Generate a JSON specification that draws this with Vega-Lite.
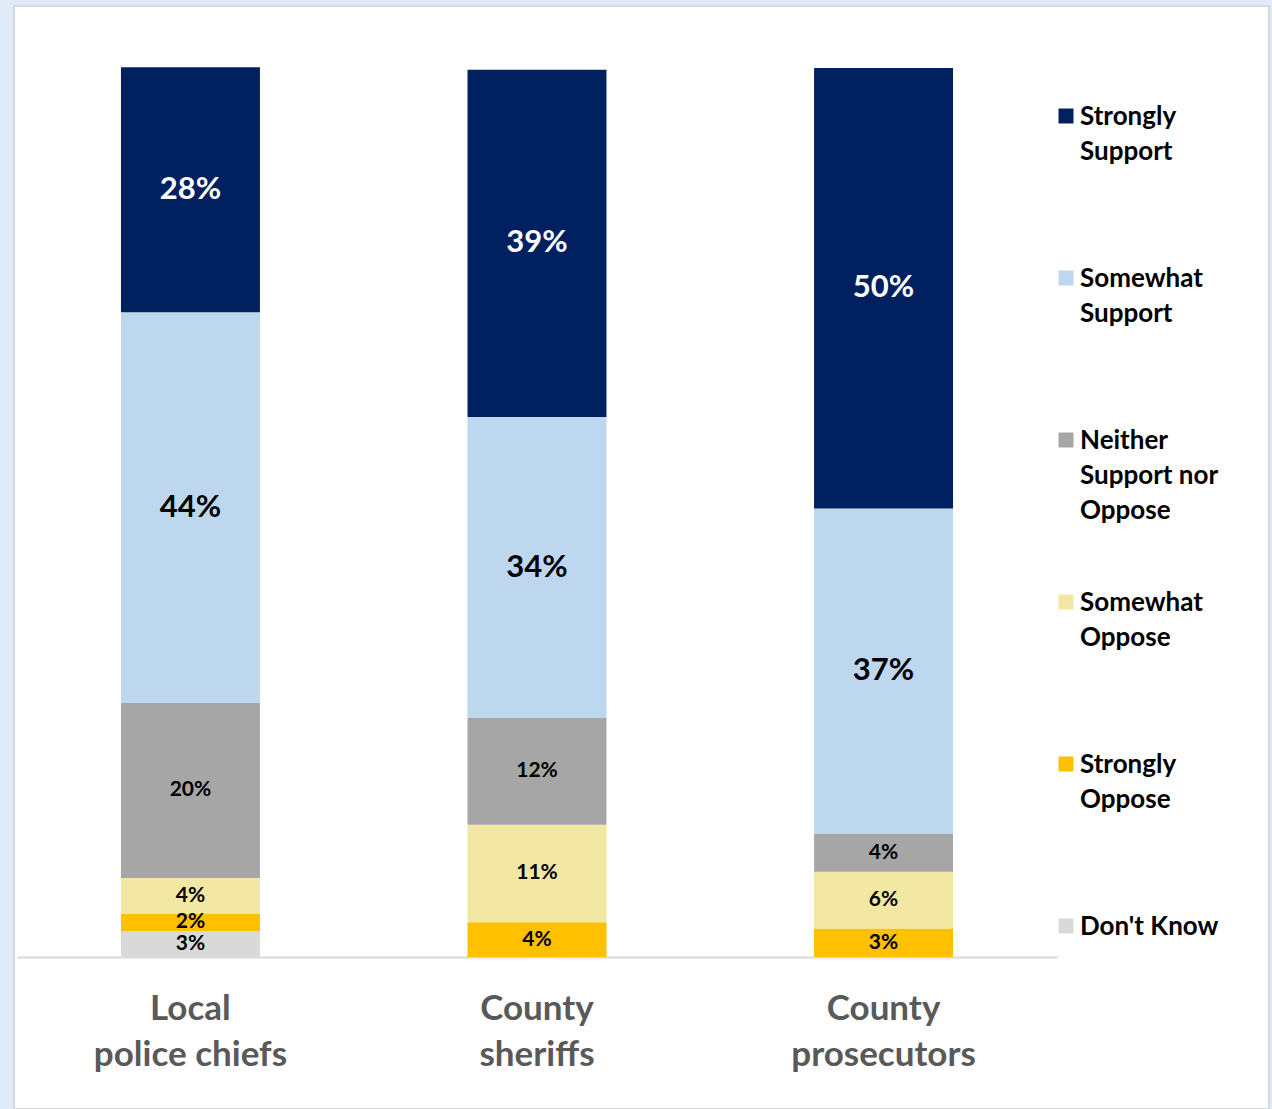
{
  "$schema": "https://vega.github.io/schema/vega-lite/v6.json",
  "width": 1255,
  "height": 1103,
  "autosize": {"type": "none"},
  "padding": {"left": 14, "top": 6, "right": 3, "bottom": 0},
  "background": "#e1eaf7",
  "config": {
    "view": {"fill": "#ffffff", "stroke": "#d5d9df", "strokeWidth": 2},
    "font": "Lato"
  },
  "data": {
    "values": [
      {"group": "Local police chiefs", "response": "Don't Know", "share": 0.029},
      {"group": "Local police chiefs", "response": "Strongly Oppose", "share": 0.02},
      {"group": "Local police chiefs", "response": "Somewhat Oppose", "share": 0.04},
      {"group": "Local police chiefs", "response": "Neither Support nor Oppose", "share": 0.197},
      {"group": "Local police chiefs", "response": "Somewhat Support", "share": 0.44},
      {"group": "Local police chiefs", "response": "Strongly Support", "share": 0.276},
      {"group": "County sheriffs", "response": "Strongly Oppose", "share": 0.039},
      {"group": "County sheriffs", "response": "Somewhat Oppose", "share": 0.11},
      {"group": "County sheriffs", "response": "Neither Support nor Oppose", "share": 0.12},
      {"group": "County sheriffs", "response": "Somewhat Support", "share": 0.339},
      {"group": "County sheriffs", "response": "Strongly Support", "share": 0.391},
      {"group": "County prosecutors", "response": "Strongly Oppose", "share": 0.032},
      {"group": "County prosecutors", "response": "Somewhat Oppose", "share": 0.064},
      {"group": "County prosecutors", "response": "Neither Support nor Oppose", "share": 0.043},
      {"group": "County prosecutors", "response": "Somewhat Support", "share": 0.366},
      {"group": "County prosecutors", "response": "Strongly Support", "share": 0.496}
    ]
  },
  "transform": [
    {"stack": "share", "groupby": ["group"], "as": ["lo", "hi"]},
    {"calculate": "(datum.lo + datum.hi) / 2", "as": "mid"}
  ],
  "encoding": {
    "x": {
      "field": "group",
      "type": "nominal",
      "sort": null,
      "scale": {"range": [3, 1043], "paddingInner": 0.599, "paddingOuter": 0.3},
      "axis": {
        "title": null,
        "orient": "bottom",
        "offset": -152,
        "domainColor": "#d9d9d9",
        "domainWidth": 2,
        "ticks": false,
        "grid": false,
        "labelFont": "Lato",
        "labelFontWeight": "bold",
        "labelFontSize": 35,
        "labelColor": "#595959",
        "labelPadding": 34,
        "labelLineHeight": 46,
        "labelAngle": 0,
        "labelLimit": 400,
        "labelExpr": "datum.value == 'Local police chiefs' ? ['Local', 'police chiefs'] : datum.value == 'County sheriffs' ? ['County', 'sheriffs'] : ['County', 'prosecutors']"
      }
    }
  },
  "layer": [
    {
      "mark": {"type": "bar"},
      "encoding": {
        "y": {
          "field": "lo",
          "type": "quantitative",
          "scale": {"domain": [-0.1712, 1.0709], "nice": false, "zero": false},
          "axis": null
        },
        "y2": {"field": "hi"},
        "color": {
          "field": "response",
          "type": "nominal",
          "scale": {
            "domain": ["Strongly Support", "Somewhat Support", "Neither Support nor Oppose", "Somewhat Oppose", "Strongly Oppose", "Don't Know"],
            "range": ["#002060", "#bdd7ee", "#a6a6a6", "#f3e8a3", "#ffc000", "#d9d9d9"]
          },
          "legend": {
            "orient": "none",
            "legendX": 1039,
            "legendY": 97,
            "title": null,
            "direction": "vertical",
            "symbolType": "square",
            "symbolSize": 225,
            "symbolStrokeWidth": 0,
            "symbolOpacity": 1,
            "labelFont": "Lato",
            "labelFontWeight": "bold",
            "labelFontSize": 26,
            "labelColor": "#000000",
            "labelOffset": 1,
            "labelBaseline": "top",
            "labelLimit": 300,
            "rowPadding": 65,
            "padding": 0,
            "labelExpr": "datum.label == 'Strongly Support' ? ['Strongly', 'Support', ''] : datum.label == 'Somewhat Support' ? ['Somewhat', 'Support', ''] : datum.label == 'Neither Support nor Oppose' ? ['Neither', 'Support nor', 'Oppose'] : datum.label == 'Somewhat Oppose' ? ['Somewhat', 'Oppose', ''] : datum.label == 'Strongly Oppose' ? ['Strongly', 'Oppose', ''] : ['Don\\'t Know']",
            "encode": {"labels": {"update": {"lineHeight": {"value": 35}, "dy": {"value": -12.5}}}}
          }
        }
      }
    },
    {
      "mark": {"type": "text", "font": "Lato", "fontWeight": "bold", "align": "center", "baseline": "middle"},
      "encoding": {
        "y": {"field": "mid", "type": "quantitative"},
        "text": {"field": "share", "type": "quantitative", "format": ".0%"},
        "color": {"condition": {"test": "datum.response == 'Strongly Support'", "value": "#ffffff"}, "value": "#000000"},
        "size": {"condition": {"test": "datum.response == 'Strongly Support' || datum.response == 'Somewhat Support'", "value": 31}, "value": 21}
      }
    }
  ]
}
